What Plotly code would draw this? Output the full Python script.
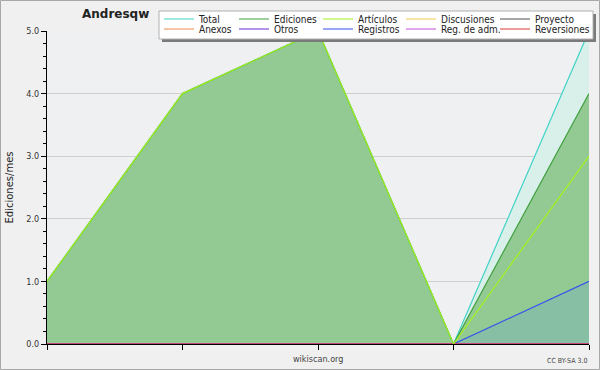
import plotly.graph_objects as go

# ---- data ----
months = [0, 1, 2, 3, 4]
month_labels = ["", "", "", "", ""]
total = [1, 4, 5, 0, 5]
ediciones = [1, 4, 5, 0, 4]
articulos = [1, 4, 5, 0, 3]
discusiones = [0, 0, 0, 0, 0]
proyecto = [0, 0, 0, 0, 0]
anexos = [0, 0, 0, 0, 0]
otros = [0, 0, 0, 0, 0]
registros = [0, 0, 0, 0, 1]
reg_adm = [0, 0, 0, 0, 0]
reversiones = [0, 0, 0, 0, 0]

W, H = 600, 370
L, R, T, B = 47, 11, 31, 26
PW, PH = W - L - R, H - T - B

FONT = "DejaVu Sans Condensed, DejaVu Sans, sans-serif"

# (name, values, line colour, fill colour, legend, column width)
series = [
    ("Total", total, "#3fd3c6", "#d9f0ea", "legend", 30),
    ("Ediciones", ediciones, "#3f9f3f", "#93ca94", "legend", 39),
    ("Artículos", articulos, "#a6f01e", None, "legend", 38),
    ("Discusiones", discusiones, "#f2c94a", None, "legend", 49),
    ("Proyecto", proyecto, "#505050", None, "legend", 56),
    ("Anexos", anexos, "#f08a4a", None, "legend2", 30),
    ("Otros", otros, "#6a2ad8", None, "legend2", 39),
    ("Registros", registros, "#3552ee", "#86bfa3", "legend2", 38),
    ("Reg. de adm.", reg_adm, "#c64ee0", None, "legend2", 49),
    ("Reversiones", reversiones, "#e03a3a", None, "legend2", 56),
]

fill_order = ["Total", "Ediciones", "Registros"]
line_order = ["Total", "Ediciones", "Registros", "Discusiones", "Proyecto",
              "Anexos", "Otros", "Reg. de adm.", "Reversiones", "Artículos"]
legend_rank = {s[0]: i for i, s in enumerate(series)}
by_name = {s[0]: s for s in series}

fig = go.Figure()
# area fills (not in legend)
for nm in fill_order:
    name, vals, col, fcol, leg, lw = by_name[nm]
    fig.add_trace(go.Scatter(
        x=months, y=vals, name=name, mode="lines", line=dict(width=0),
        fill="tozeroy", fillcolor=fcol, showlegend=False, hoverinfo="skip"))
# lines (in legend)
for nm in line_order:
    name, vals, col, fcol, leg, lw = by_name[nm]
    fig.add_trace(go.Scatter(
        x=months, y=vals, name=name, mode="lines",
        line=dict(color=col, width=1.2),
        legend=leg, legendwidth=lw, legendrank=legend_rank[name],
        hoverinfo="skip"))

def px_x(p):
    return (p - L) / PW

def px_y(p):
    return (H - B - p) / PH

LEG_LEFT = 159
legend_common = dict(orientation="h", xanchor="left", yanchor="top",
                     bgcolor="rgba(0,0,0,0)", borderwidth=0,
                     font=dict(family=FONT, size=10, color="#222"),
                     itemwidth=30, traceorder="normal", tracegroupgap=0)

fig.update_layout(
    width=W, height=H,
    margin=dict(l=L, r=R, t=T, b=B, pad=0, autoexpand=False),
    paper_bgcolor="#f0f0f0",
    plot_bgcolor="#eff0f2",
    showlegend=True,
    legend=dict(x=px_x(LEG_LEFT), y=px_y(4.5), **legend_common),
    legend2=dict(x=px_x(LEG_LEFT), y=px_y(14.5), **legend_common),
    title=dict(text="Andresqw", xref="container", yref="container",
               x=82 / W, xanchor="left", y=1 - 14 / H, yanchor="middle",
               font=dict(family="DejaVu Sans, sans-serif", size=12,
                         color="#222", weight="bold")),
    xaxis=dict(range=[months[0], months[-1]], tickvals=months,
               ticktext=month_labels, ticks="outside", ticklen=5,
               tickcolor="black", showline=True, linecolor="black",
               linewidth=1, showgrid=False, zeroline=False,
               fixedrange=True),
    yaxis=dict(range=[0, 5], dtick=1, tick0=0, tickformat=".1f",
               ticks="outside", ticklen=5, tickcolor="black",
               showline=True, linecolor="black", linewidth=1,
               showgrid=True, gridcolor="#cfcfcf", gridwidth=1,
               zeroline=False,
               tickfont=dict(family=FONT, size=9, color="#333"),
               minor=dict(dtick=0.2, ticks="outside", ticklen=3,
                          tickcolor="black", showgrid=False),
               title=dict(text="Ediciones/mes", standoff=10,
                          font=dict(family="DejaVu Sans, sans-serif",
                                    size=10, color="#222")),
               fixedrange=True),
    annotations=[
        dict(text="wikiscan.org", xref="paper", yref="paper",
             x=0.5, y=px_y(359), xanchor="center", yanchor="middle",
             showarrow=False,
             font=dict(family=FONT, size=9, color="#444")),
        dict(text="CC BY-SA 3.0", xref="paper", yref="paper",
             x=1, y=px_y(361), xanchor="right", yanchor="middle",
             showarrow=False,
             font=dict(family=FONT, size=7, color="#444")),
    ],
    shapes=[
        # outer frame
        dict(type="rect", xref="paper", yref="paper", layer="above",
             x0=px_x(0.5), x1=px_x(W - 0.5), y0=px_y(H - 0.5), y1=px_y(0.5),
             line=dict(color="#a8a8a8", width=1), fillcolor="rgba(0,0,0,0)"),
        # legend box shadow
        dict(type="rect", xref="paper", yref="paper", layer="above",
             x0=px_x(LEG_LEFT + 3), x1=px_x(596), y0=px_y(42), y1=px_y(14),
             line=dict(width=0), fillcolor="#7a7a7a"),
        # legend box
        dict(type="rect", xref="paper", yref="paper", layer="above",
             x0=px_x(LEG_LEFT), x1=px_x(593), y0=px_y(39), y1=px_y(11),
             line=dict(color="#b0b0b0", width=1), fillcolor="#ffffff"),
    ],
)

fig.write_html("out.html")
